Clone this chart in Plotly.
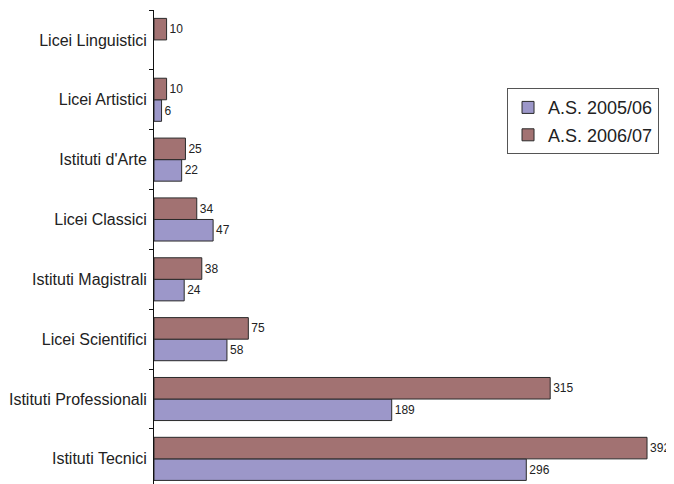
import plotly.graph_objects as go

categorie = [
    "Istituti Tecnici",
    "Istituti Professionali",
    "Licei Scientifici",
    "Istituti Magistrali",
    "Licei Classici",
    "Istituti d'Arte",
    "Licei Artistici",
    "Licei Linguistici",
]
as_2005_06 = [296, 189, 58, 24, 47, 22, 6, None]
as_2006_07 = [392, 315, 75, 38, 34, 25, 10, 10]

col_2005 = "#9c97c9"
col_2006 = "#a27272"


def etichette(vals):
    return ["" if v is None else str(v) for v in vals]


fig = go.Figure()

fig.add_trace(
    go.Bar(
        y=categorie,
        x=as_2005_06,
        orientation="h",
        name="A.S. 2005/06",
        legendgroup="a",
        marker=dict(color=col_2005, line=dict(color="#2a2a2a", width=1)),
        text=etichette(as_2005_06),
        textposition="outside",
        textfont=dict(size=12, color="#222222"),
        cliponaxis=False,
    )
)
fig.add_trace(
    go.Bar(
        y=categorie,
        x=as_2006_07,
        orientation="h",
        name="A.S. 2006/07",
        legendgroup="b",
        marker=dict(color=col_2006, line=dict(color="#2a2a2a", width=1)),
        text=etichette(as_2006_07),
        textposition="outside",
        textfont=dict(size=12, color="#222222"),
        cliponaxis=False,
    )
)

# la pagina ha 8px di margine sul body
fig.update_layout(
    width=674,
    height=484,
    margin=dict(l=146, r=0, t=2, b=8),
    paper_bgcolor="white",
    plot_bgcolor="white",
    font=dict(family="Liberation Sans, Arial, sans-serif", color="#222222"),
    barmode="group",
    bargap=0.28,
    bargroupgap=0,
    showlegend=True,
    legend=dict(
        x=0.6686,
        y=0.835,
        xanchor="left",
        yanchor="top",
        bgcolor="white",
        bordercolor="#555555",
        borderwidth=1,
        font=dict(size=18, color="#222222"),
        traceorder="grouped",
        tracegroupgap=1,
        itemwidth=30,
    ),
)

fig.update_xaxes(
    range=[0, 419.8],
    showline=False,
    showgrid=False,
    zeroline=False,
    showticklabels=False,
    ticks="",
    automargin=False,
)
fig.update_yaxes(
    type="category",
    range=[-0.42, 7.5],
    showline=True,
    linecolor="#111111",
    linewidth=1,
    ticks="outside",
    tickson="boundaries",
    ticklen=4,
    tickcolor="#111111",
    showgrid=False,
    zeroline=False,
    tickfont=dict(size=16, color="#222222"),
    ticklabelstandoff=3,
    automargin=False,
)

fig.write_html("out.html")
